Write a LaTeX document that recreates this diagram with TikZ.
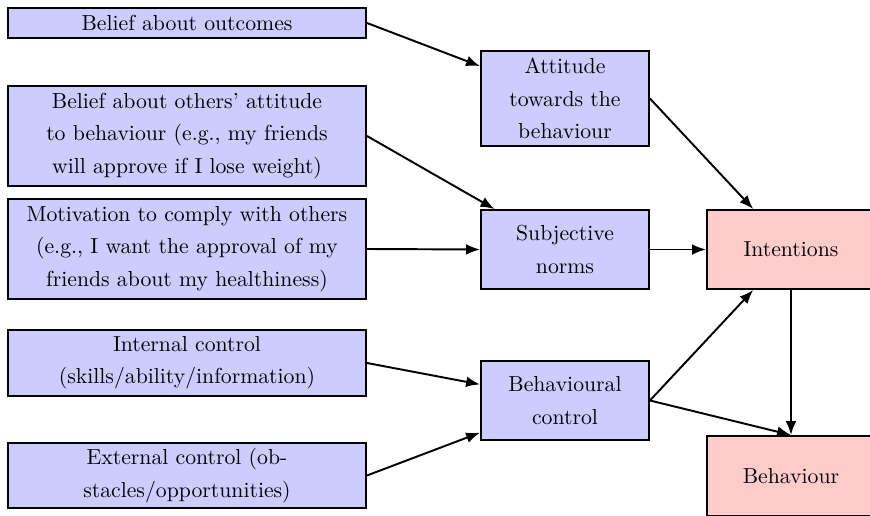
\documentclass[tikz,border=0pt]{standalone}
\usetikzlibrary{arrows.meta}
\begin{document}
\begin{tikzpicture}[x=0.465pt,y=-0.465pt,
  box/.style={draw,line width=0.9pt,inner sep=0pt,align=center,font=\fontsize{10.1}{15}\selectfont},
  bluebox/.style={box,fill=blue!20},
  redbox/.style={box,fill=red!20},
  leftbox/.style={bluebox,minimum width=166.5pt},
  midbox/.style={bluebox,minimum width=78.1pt},
  rightbox/.style={redbox,minimum width=78.1pt},
  arr/.style={line width=0.9pt,-{Latex[length=6.5pt,width=5pt]}}]
\useasboundingbox (0,0) rectangle (870,516);
\node[leftbox,minimum height=14pt] (outcomes) at (187,23) {Belief about outcomes};
\node[leftbox,minimum height=46.5pt] (others) at (187,136) {Belief about others' attitude\\to behaviour (e.g., my friends\\will approve if I lose weight)};
\node[leftbox,minimum height=46.5pt] (motivation) at (187,249) {Motivation to comply with others\\(e.g., I want the approval of my\\friends about my healthiness)};
\node[leftbox,minimum height=30.7pt] (internal) at (187,363) {Internal control\\(skills/ability/information)};
\node[leftbox,minimum height=30.2pt] (external) at (187,475.5) {External control (ob-\\stacles/opportunities)};
\node[midbox,minimum height=44.2pt] (attitude) at (565,98.5) {Attitude\\towards the\\behaviour};
\node[midbox,minimum height=36.7pt] (subjective) at (565,249.5) {Subjective\\norms};
\node[midbox,minimum height=36.7pt] (control) at (565,400.5) {Behavioural\\control};
\node[rightbox,minimum height=36.7pt] (intentions) at (791,249.5) {Intentions};
\node[rightbox,minimum height=37.2pt] (behaviour) at (791,476) {Behaviour};
\draw[arr] (outcomes.east) -- (attitude);
\draw[arr] (others.east) -- (subjective);
\draw[arr] (motivation.east) -- (subjective.west);
\draw[arr] (internal.east) -- (control);
\draw[arr] (external.east) -- (control);
\draw[arr] (attitude.east) -- (intentions);
\draw[arr] (subjective.east) -- (intentions.west);
\draw[arr] (control.east) -- (intentions);
\draw[arr] (control.east) -- (behaviour.north);
\draw[arr] (intentions.south) -- (behaviour.north);
\end{tikzpicture}
\end{document}
